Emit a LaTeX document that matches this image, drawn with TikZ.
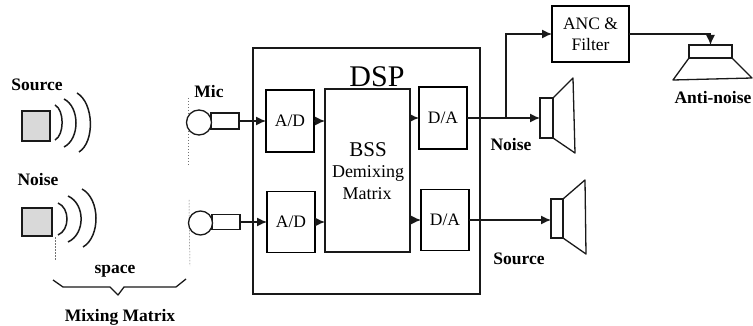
\documentclass[tikz,border=0pt]{standalone}
\usepackage{fontspec}
\setmainfont{Liberation Serif}
\usetikzlibrary{arrows.meta}
\tikzset{
  ln/.style={line width=1.3pt,black!90},
  boxn/.style={draw=black!90,line width=1.3pt,inner sep=0pt,outer sep=0pt,align=center},
  srcbox/.style={boxn,fill=black!15},
  mic/.style={draw=black!90,line width=1.3pt,circle,inner sep=0pt,outer sep=0pt},
  lbl/.style={font=\bfseries\fontsize{17.5}{17.5}\selectfont,inner sep=0pt,black},
  txt/.style={font=\fontsize{17.5}{20}\selectfont,black},
  arr/.style={ln,-{Latex[length=10pt,width=9pt]}},
  wave/.style={line width=1.5pt,black!90},
  dots/.style={line width=.5pt,black!55,dash pattern=on 1.5pt off 1.5pt},
}
\begin{document}
\begin{tikzpicture}[x=1pt,y=-1pt]
\useasboundingbox (0,0) rectangle (753,326);
% DSP frame
\node[boxn,minimum width=227pt,minimum height=246pt] (dsp) at (366.5,171) {};
\node[inner sep=0pt,font=\fontsize{30}{30}\selectfont,black] (dsplbl) at (377,77) {DSP};
% Sources
\node[srcbox,minimum width=28pt,minimum height=30pt] (src) at (36,126) {};
\node[srcbox,minimum width=30pt,minimum height=28pt] (noi) at (37,222) {};
\draw[wave] (55,105) .. controls (64.5,110) and (64.5,135) .. (55,140);
\draw[wave] (64,99) .. controls (80,107) and (80,139) .. (64,147);
\draw[wave] (77,93) .. controls (94,103) and (95,142) .. (79,152);
\draw[wave] (58,203) .. controls (70,208) and (70,230) .. (58,235);
\draw[wave] (68,196) .. controls (85.5,204) and (85.5,234) .. (68,242);
\draw[wave] (82,189) .. controls (100.5,199) and (100.5,237) .. (83,247);
\node[lbl] (lsrc) at (37,85) {Source};
\node[lbl] (lnoi) at (38,180) {Noise};
\node[lbl] (lmic) at (209,92) {Mic};
% dotted guides
\coordinate (g1a) at (188,98); \coordinate (g1b) at (188,167);
\coordinate (g2a) at (189,200); \coordinate (g2b) at (190,266);
\coordinate (g3a) at (55,237); \coordinate (g3b) at (55,260);
\draw[dots] (g1a) -- (g1b);
\draw[dots] (g2a) -- (g2b);
\draw[dots] (g3a) -- (g3b);
% Microphones
\node[boxn,minimum width=28pt,minimum height=16pt] (mr1) at (225,121) {};
\node[boxn,minimum width=28pt,minimum height=15pt] (mr2) at (226,222) {};
\node[mic,fill=white,minimum size=25pt] (mc1) at (199,122.5) {};
\node[mic,fill=white,minimum size=24pt] (mc2) at (200.5,223) {};
% inner blocks
\node[boxn,txt,minimum width=48pt,minimum height=62pt] (ad1) at (290,121) {A/D};
\node[boxn,txt,minimum width=48pt,minimum height=61pt] (ad2) at (291,222) {A/D};
\node[boxn,minimum width=85pt,minimum height=163pt] (bss) at (367.5,170.5) {};
\node[inner sep=0pt,font=\fontsize{21}{21}\selectfont,black] (t1) at (368,150) {BSS};
\node[inner sep=0pt,font=\fontsize{18}{18}\selectfont,black] (t2) at (368,173) {Demixing};
\node[inner sep=0pt,font=\fontsize{18}{18}\selectfont,black] (t3) at (367,194) {Matrix};
\node[boxn,txt,minimum width=48pt,minimum height=62pt] (da1) at (443,118) {D/A};
\node[boxn,txt,minimum width=48pt,minimum height=61pt] (da2) at (445,220) {D/A};
\node[boxn,txt,minimum width=77pt,minimum height=56pt] (anc) at (590.5,34) {ANC \&\\[1pt]Filter};
% speakers
\node[boxn,minimum width=13pt,minimum height=40pt] (sp1) at (546.5,118) {};
\node[boxn,minimum width=12pt,minimum height=39pt] (sp2) at (557,218.5) {};
\node[boxn,minimum width=43pt,minimum height=13pt] (sp3) at (710.5,51.5) {};
\draw[ln,line join=round] (sp1.north east) -- (573,78) -- (575,153) -- (sp1.south east);
\draw[ln,line join=round] (sp2.north east) -- (585,180) -- (586,254) -- (sp2.south east);
\draw[ln,line join=round] (sp3.south west) -- (673,80) -- (752,78) -- (sp3.south east);
% connectors
\draw[arr] (mr1.east) -- (ad1.west);
\draw[arr] (mr2.east) -- (ad2.west);
\draw[arr] (ad1.east) -- (ad1.east -| bss.west);
\draw[arr] (ad2.east) -- (ad2.east -| bss.west);
\draw[arr] (da1.west -| bss.east) -- (da1.west);
\draw[arr] (da2.west -| bss.east) -- (da2.west);
\draw[arr] (da1.east) -- (da1.east -| sp1.west);
\draw[arr] (da2.east) -- (da2.east -| sp2.west);
\coordinate (jn) at (506,118);
\draw[arr] (jn) |- (anc.west);
\draw[arr] (anc.east) -| (sp3.north);
% brace
\coordinate (b1) at (53,280); \coordinate (b2) at (63,287); \coordinate (b3) at (110,287);
\coordinate (b4) at (118,295); \coordinate (b5) at (124,287); \coordinate (b6) at (176,287); \coordinate (b7) at (186,279);
\draw[ln,line join=round] (b1) -- (b2) -- (b3) -- (b4) -- (b5) -- (b6) -- (b7);
\node[lbl] (lsp) at (115,271) {space};
\node[lbl] (lmm) at (120,317) {Mixing Matrix};
\node[lbl] (ln) at (511,145) {Noise};
\node[lbl] (ls) at (519,259) {Source};
\node[lbl] (la) at (713,98) {Anti-noise};
\end{tikzpicture}
\end{document}
